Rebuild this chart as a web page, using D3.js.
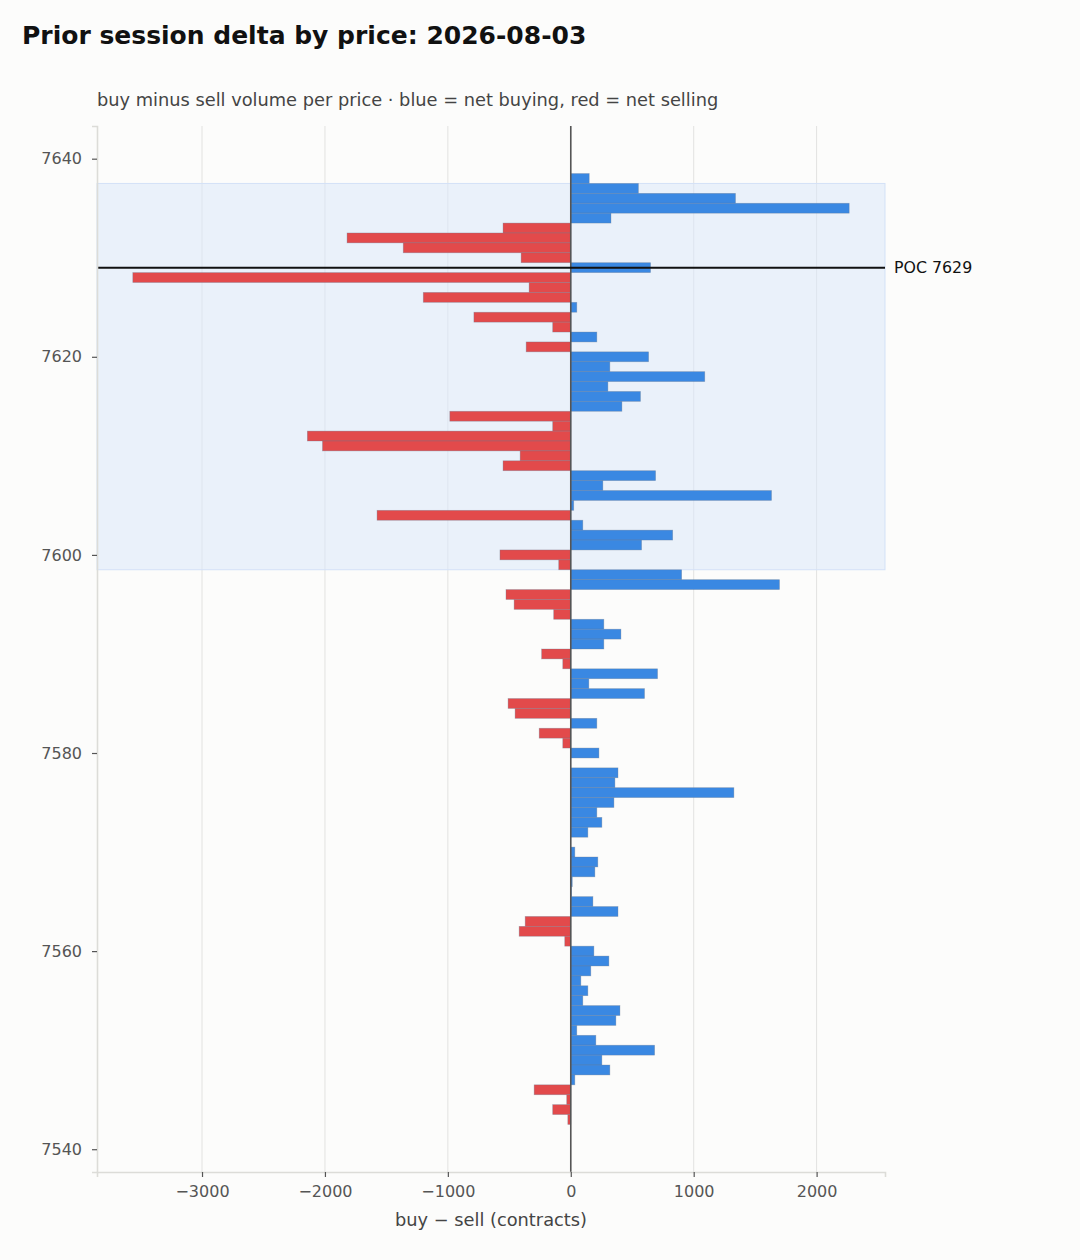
<!DOCTYPE html>
<html>
<head>
<meta charset="utf-8">
<script src="https://cdn.jsdelivr.net/npm/d3@7"></script>
<style>
  html, body { margin: 0; padding: 0; background: #fcfcfb; }
  svg { display: block; font-family: "DejaVu Sans", sans-serif; }
</style>
</head>
<body>
<svg id="chart" width="1080" height="1260"></svg>
<script>
// ---- data ----
const prices = d3.range(7638, 7542, -1); // 7638 .. 7543
const deltas = [
  150, 550, 1340, 2265, 327, -551, -1820, -1363, -404, 649,          // 7638-7629
  -3563, -339, -1200, 49, -788, -147, 212, -363, 633, 318,          // 7628-7619
  1090, 302, 567, 416, -984, -147, -2143, -2020, -412, -551,        // 7618-7609
  690, 261, 1633, 24, -1576, 98, 829, 576, -576, -98,               // 7608-7599
  902, 1698, -527, -461, -139, 269, 408, 269, -237, -65,            // 7598-7589
  706, 147, 600, -510, -453, 212, -257, -65, 229, 0,                // 7588-7579
  384, 359, 1327, 351, 212, 253, 139, 0, 33, 220,                   // 7578-7569
  196, 12, 6, 180, 384, -371, -420, -49, 188, 310,                  // 7568-7559
  163, 82, 139, 98, 400, 367, 49, 204, 682, 253,                    // 7558-7549
  318, 33, -298, -33, -147, -24                                     // 7548-7543
];
const pocPrice = 7629;
const valueAreaLow = 7599;
const valueAreaHigh = 7637;
const xTicks = [-3000, -2000, -1000, 0, 1000, 2000];
const yTicks = [7540, 7560, 7580, 7600, 7620, 7640];

const titleText = "Prior session delta by price: 2026-08-03";
const subtitleText = "buy minus sell volume per price \u00b7 blue = net buying, red = net selling";
const xLabel = "buy \u2212 sell (contracts)";

// ---- layout ----
const svg = d3.select("#chart");
const L = 97, R = 885, T = 126, B = 1172;

const data = prices.map((p, i) => ({ price: p, delta: deltas[i] }));

const xMin = d3.min(deltas), xMax = d3.max(deltas);
const xPad = (xMax - xMin) * 0.05;
const x = d3.scaleLinear().domain([xMin - xPad, xMax + xPad]).range([L, R]);

const yLo = d3.min(prices) - 0.5, yHi = d3.max(prices) + 0.5;
const yPad = (yHi - yLo) * 0.05;
const y = d3.scaleLinear().domain([yLo - yPad, yHi + yPad]).range([B, T]);

const fmt = v => (v < 0 ? "\u2212" + Math.abs(v) : String(v));

// title + subtitle
svg.append("text").attr("x", 22).attr("y", 44)
  .attr("font-size", 25).attr("font-weight", "bold").attr("fill", "#111")
  .text(titleText);
svg.append("text").attr("x", L).attr("y", 105.5)
  .attr("font-size", 17.8).attr("fill", "#444")
  .text(subtitleText);

// grid lines
svg.append("g").selectAll("line").data(xTicks).join("line")
  .attr("x1", d => x(d)).attr("x2", d => x(d))
  .attr("y1", T).attr("y2", B)
  .attr("stroke", "#e2e2e0").attr("stroke-width", 1);

// value area band
svg.append("rect")
  .attr("x", L).attr("width", R - L)
  .attr("y", y(valueAreaHigh + 0.5))
  .attr("height", y(valueAreaLow - 0.5) - y(valueAreaHigh + 0.5))
  .attr("fill", "#dbe7fa").attr("fill-opacity", 0.55)
  .attr("stroke", "#d3e1f7").attr("stroke-width", 1);

// bars
svg.append("g").selectAll("rect").data(data.filter(d => d.delta !== 0)).join("rect")
  .attr("x", d => x(Math.min(0, d.delta)))
  .attr("width", d => Math.abs(x(d.delta) - x(0)))
  .attr("y", d => y(d.price + 0.5))
  .attr("height", d => y(d.price - 0.5) - y(d.price + 0.5))
  .attr("fill", d => d.delta > 0 ? "#3a88e2" : "#e24a4b")
  .attr("stroke", "#6a7a90").attr("stroke-opacity", 0.45).attr("stroke-width", 0.7);

// zero line
svg.append("line")
  .attr("x1", x(0)).attr("x2", x(0)).attr("y1", T).attr("y2", B)
  .attr("stroke", "#555").attr("stroke-width", 1.6);

// POC line
svg.append("line")
  .attr("x1", L).attr("x2", R).attr("y1", y(pocPrice)).attr("y2", y(pocPrice))
  .attr("stroke", "#111").attr("stroke-width", 2);
svg.append("text").attr("x", R + 9).attr("y", y(pocPrice)).attr("dy", "0.35em")
  .attr("font-size", 15.8).attr("fill", "#111")
  .text("POC " + pocPrice);

// axes
const xAxis = d3.axisBottom(x).tickValues(xTicks).tickFormat(fmt).tickSize(5).tickPadding(9);
const gx = svg.append("g").attr("transform", `translate(0,${B})`).call(xAxis);
gx.select(".domain").attr("stroke", "#dcdcd8").attr("stroke-width", 1.6);
gx.selectAll(".tick line").attr("stroke", "#555").attr("stroke-width", 1.2);
gx.selectAll(".tick text").attr("font-size", 16).attr("fill", "#555").attr("font-family", "DejaVu Sans");

const yAxis = d3.axisLeft(y).tickValues(yTicks).tickFormat(d3.format("d")).tickSize(5).tickPadding(10);
const gy = svg.append("g").attr("transform", `translate(${L},0)`).call(yAxis);
gy.select(".domain").attr("stroke", "#dcdcd8").attr("stroke-width", 1.6);
gy.selectAll(".tick line").attr("stroke", "#555").attr("stroke-width", 1.2);
gy.selectAll(".tick text").attr("font-size", 16).attr("fill", "#555").attr("font-family", "DejaVu Sans");

// x label
svg.append("text").attr("x", (L + R) / 2).attr("y", 1226)
  .attr("text-anchor", "middle").attr("font-size", 17.8).attr("fill", "#444")
  .text(xLabel);
</script>
</body>
</html>
